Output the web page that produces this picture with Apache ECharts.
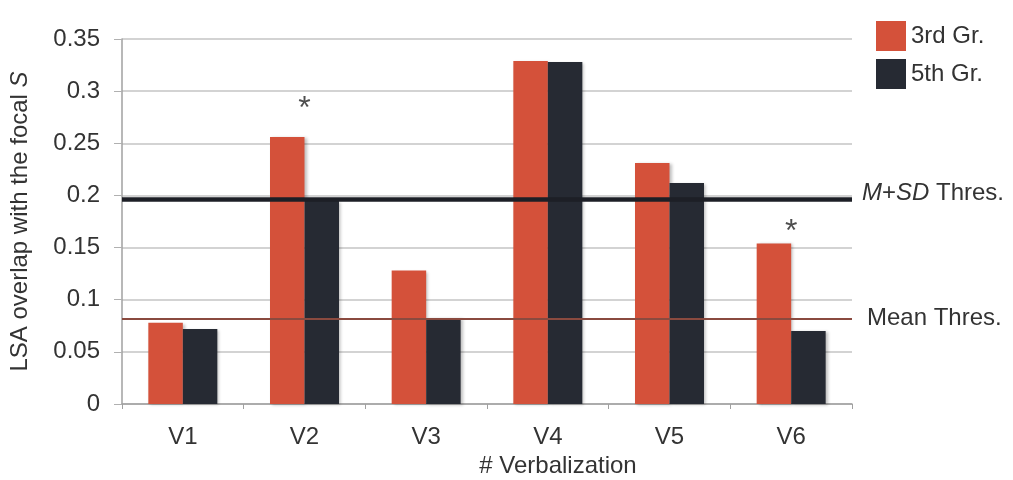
<!DOCTYPE html>
<html><head><meta charset="utf-8">
<script src="https://cdn.jsdelivr.net/npm/echarts@6/dist/echarts.min.js"></script>
<style>html,body{margin:0;padding:0;background:#fff}#c{width:1013px;height:480px}</style>
</head><body><div id="c"></div>
<script>
const categories = ['V1','V2','V3','V4','V5','V6'];
const grade3 = [0.078, 0.256, 0.128, 0.329, 0.231, 0.154];
const grade5 = [0.072, 0.195, 0.082, 0.328, 0.212, 0.070];
const meanThres = 0.082;
const msdThres = 0.196;
const asterisks = [['V2', 0.289], ['V6', 0.171]];
const yTicks = [0, 0.05, 0.1, 0.15, 0.2, 0.25, 0.3, 0.35];

const chart = echarts.init(document.getElementById('c'));
const font = 'Liberation Sans, Arial, sans-serif';
chart.setOption({
  animation: false,
  textStyle: { fontFamily: font },
  grid: { left: 122, right: 161, top: 39, bottom: 76, containLabel: false, outerBoundsMode: 'none' },
  legend: {
    orient: 'vertical', left: 871, top: 16, itemWidth: 30, itemHeight: 30, itemGap: 8,
    icon: 'rect', data: ['3rd Gr.', '5th Gr.'],
    textStyle: { fontSize: 24, color: '#333', fontFamily: font, padding: [13, 0, 0, 0] }
  },
  xAxis: {
    type: 'category', data: categories,
    name: '# Verbalization', nameLocation: 'middle', nameGap: 50,
    nameTextStyle: { fontSize: 24, color: '#333', padding: [0, 0, 0, 142] },
    axisLine: { lineStyle: { color: '#a0a0a0', width: 1.5 } },
    axisTick: { show: true, length: 5, lineStyle: { color: '#a0a0a0' } },
    axisLabel: { fontSize: 24, color: '#333', margin: 21 }
  },
  yAxis: {
    type: 'value', min: 0, max: 0.35, interval: 0.05,
    name: 'LSA overlap with the focal {i|S}', nameLocation: 'middle', nameGap: 90,
    nameTextStyle: { fontSize: 24, color: '#333', rich: { i: { fontStyle: 'italic', fontSize: 24, color: '#333' } } },
    axisLine: { show: true, lineStyle: { color: '#a0a0a0', width: 1.5 } },
    axisTick: { show: true, length: 8, lineStyle: { color: '#b0b0b0' } },
    splitLine: { lineStyle: { color: '#c4c4c4', width: 1.5 } },
    axisLabel: { fontSize: 24, color: '#333', margin: 22,
      formatter: v => { const t = yTicks.find(x => Math.abs(x - v) < 1e-9); return t === undefined ? '' : String(t); } }
  },
  series: [
    {
      name: '3rd Gr.', type: 'bar', data: grade3, barWidth: 34.5, barGap: '0%',
      itemStyle: { color: '#d4513a', shadowColor: 'rgba(0,0,0,0.25)', shadowBlur: 3, shadowOffsetX: 2, shadowOffsetY: 1 },
      markLine: {
        symbol: 'none', silent: true, z: 10, precision: 3,
        data: [
          { yAxis: msdThres, lineStyle: { color: '#1d1f26', width: 4.5, type: 'solid' },
            label: { show: true, position: 'end', distance: 10, formatter: '{i|M}+{i|SD} Thres.', fontSize: 24, color: '#333',
              padding: [0, 0, 12, 0],
              rich: { i: { fontStyle: 'italic', fontSize: 24, color: '#333' } } } },
          { yAxis: meanThres, lineStyle: { color: '#8a4a3f', width: 2, type: 'solid' },
            label: { show: true, position: 'end', distance: 15, formatter: 'Mean Thres.', fontSize: 24, color: '#333',
              padding: [4, 0, 0, 0] } }
        ]
      }
    },
    {
      name: '5th Gr.', type: 'bar', data: grade5, barWidth: 34.5,
      itemStyle: { color: '#262a33', shadowColor: 'rgba(0,0,0,0.25)', shadowBlur: 3, shadowOffsetX: 2, shadowOffsetY: 1 }
    },
    {
      type: 'scatter', data: asterisks, symbolSize: 1, itemStyle: { color: 'rgba(0,0,0,0)' }, z: 11,
      label: { show: true, position: 'inside', formatter: '*', fontSize: 32, color: '#222', offset: [0, 7] }
    }
  ]
});
</script></body></html>
